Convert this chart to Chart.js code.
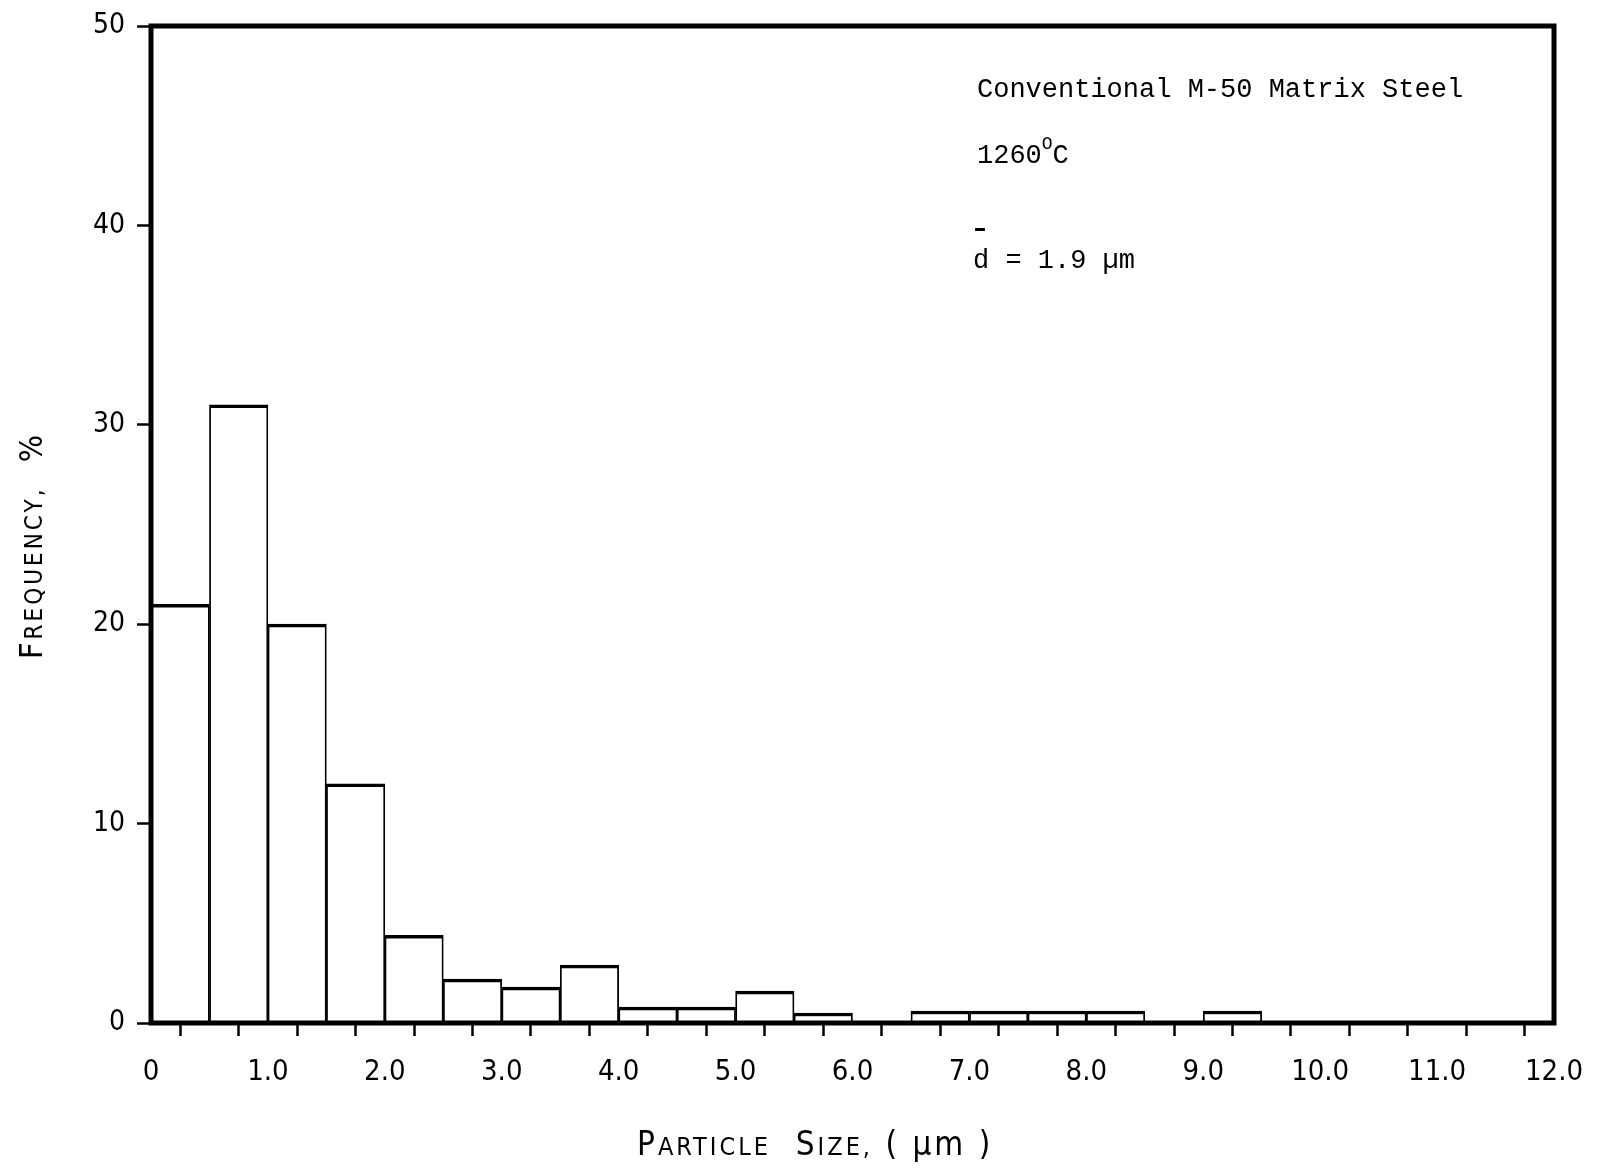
<!DOCTYPE html>
<html><head><meta charset="utf-8">
<script src="https://cdn.jsdelivr.net/npm/chart.js@4.4.1/dist/chart.umd.min.js"></script>
<style>html,body{margin:0;padding:0;background:#fff;overflow:hidden}canvas{display:block}</style>
</head><body>
<canvas id="c" width="1599" height="1173"></canvas>
<script>
// ---- data ----
const binCenters = [0.25,0.75,1.25,1.75,2.25,2.75,3.25,3.75,4.25,4.75,5.25,5.75,6.25,6.75,7.25,7.75,8.25,8.75,9.25,9.75,10.25,10.75,11.25,11.75];
const frequency  = [21,31,20,12,4.4,2.2,1.8,2.9,0.8,0.8,1.6,0.5,0,0.6,0.6,0.6,0.6,0,0.6,0,0,0,0,0];
const xTickValues = [0,1,2,3,4,5,6,7,8,9,10,11,12];
const xTickLabels = ['0','1.0','2.0','3.0','4.0','5.0','6.0','7.0','8.0','9.0','10.0','11.0','12.0'];
const yTickValues = [0,10,20,30,40,50];
const yTickLabels = ['0','10','20','30','40','50'];
const xTitle = [['P','big'],['ARTICLE','small'],['  ','big'],['S','big'],['IZE,','small'],[' ( µm )','big']];
const yTitle = [['F','big'],['REQUENCY,','small'],['  %','big']];
const noteLine1 = 'Conventional M-50 Matrix Steel';
const noteTemp = '1260';
const noteDeg = 'O';
const noteUnit = 'C';
const noteMean = 'd = 1.9 µm';

const tickFont = '"Liberation Sans Narrow","DejaVu Sans Condensed","Liberation Sans",sans-serif';
const titleFont = '"DejaVu Sans Condensed","Liberation Sans Narrow",sans-serif';
const noteFont = '"Liberation Mono","DejaVu Sans Mono",monospace';

function drawSmallCaps(ctx, parts, x, y, big, small) {
  let cx = x;
  for (const [t, k] of parts) {
    ctx.font = (k === 'big' ? big : small) + 'px ' + titleFont;
    ctx.fillText(t, cx, y);
    cx += ctx.measureText(t).width;
  }
}

const decor = {
  id: 'decor',
  afterDatasetsDraw(chart) {
    const {ctx, chartArea: a} = chart;
    ctx.save();
    ctx.strokeStyle = '#000';
    ctx.lineWidth = 5;
    ctx.strokeRect(a.left, a.top, a.right - a.left, a.bottom - a.top);
    ctx.restore();
  },
  afterDraw(chart) {
    const {ctx, chartArea: a} = chart;
    ctx.save();
    ctx.fillStyle = '#000';
    ctx.textBaseline = 'alphabetic';
    ctx.textAlign = 'left';
    ctx.letterSpacing = '3px';
    // x title
    drawSmallCaps(ctx, xTitle, a.left + 486, a.bottom + 132, 33, 25);
    // y title (rotated)
    ctx.save();
    ctx.translate(a.left - 109, a.top + 633);
    ctx.rotate(-Math.PI / 2);
    drawSmallCaps(ctx, yTitle, 0, 0, 32, 24);
    ctx.restore();
    ctx.letterSpacing = '0px';
    // notes
    const nx = a.left + 826;
    ctx.font = '27px ' + noteFont;
    ctx.fillText(noteLine1, nx, a.top + 71);
    ctx.fillText(noteTemp, nx, a.top + 137);
    let w = ctx.measureText(noteTemp).width;
    ctx.font = '18px ' + noteFont;
    ctx.fillText(noteDeg, nx + w, a.top + 123);
    let w2 = ctx.measureText(noteDeg).width;
    ctx.font = '27px ' + noteFont;
    ctx.fillText(noteUnit, nx + w + w2, a.top + 137);
    ctx.fillText(noteMean, nx - 4, a.top + 242);
    ctx.fillRect(nx - 2, a.top + 202, 10, 3);
    ctx.restore();
  }
};

new Chart(document.getElementById('c'), {
  type: 'bar',
  data: {
    datasets: [{
      data: binCenters.map((x, i) => ({x, y: frequency[i]})),
      backgroundColor: '#fff',
      borderColor: '#000',
      borderWidth: {top: 3.5, left: 1.8, right: 1.8, bottom: 0},
      borderSkipped: 'bottom',
      barPercentage: 1,
      categoryPercentage: 1
    }]
  },
  options: {
    responsive: false,
    animation: false,
    devicePixelRatio: 1,
    layout: {padding: {left: 0, right: 45, top: 26, bottom: 0}},
    plugins: {legend: {display: false}, tooltip: {enabled: false}},
    scales: {
      x: {
        type: 'linear', min: 0, max: 12, offset: false,
        afterFit(s) { s.height = 150; s.paddingLeft = 0; s.paddingRight = 0; },
        border: {display: false},
        grid: {display: true, drawOnChartArea: false, drawTicks: true, tickLength: 13, tickColor: '#000', tickWidth: 2.5},
        ticks: {
          stepSize: 0.5, autoSkip: false, maxRotation: 0, padding: 19, color: '#000',
          font: {family: tickFont, size: 29},
          callback(v) { const i = xTickValues.indexOf(v); return i >= 0 ? xTickLabels[i] : ''; }
        }
      },
      y: {
        min: 0, max: 50,
        afterFit(s) { s.width = 151; s.paddingTop = 0; s.paddingBottom = 0; },
        border: {display: false},
        grid: {display: true, drawOnChartArea: false, drawTicks: true, tickLength: 14, tickColor: '#000', tickWidth: 2.5},
        ticks: {
          stepSize: 10, padding: 12, color: '#000',
          font: {family: tickFont, size: 28},
          callback(v) { const i = yTickValues.indexOf(v); return i >= 0 ? yTickLabels[i] : ''; }
        }
      }
    }
  },
  plugins: [decor]
});
</script>
</body></html>
